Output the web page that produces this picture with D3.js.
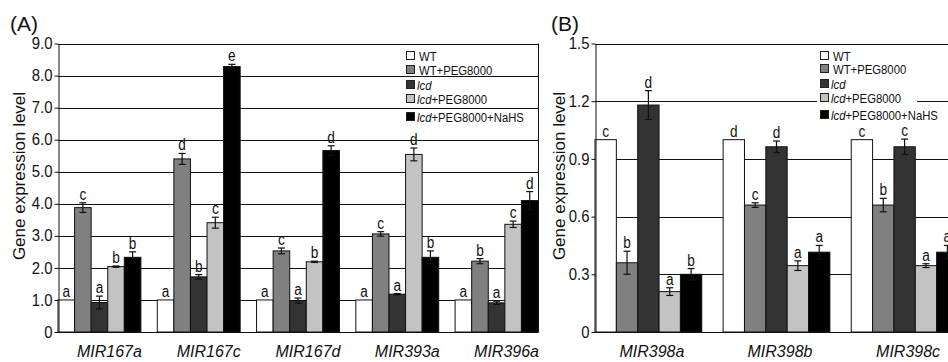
<!DOCTYPE html>
<html><head><meta charset="utf-8">
<script src="https://cdn.jsdelivr.net/npm/d3@7"></script>
<style>
html,body{margin:0;padding:0;background:#fff;}
svg{display:block;font-family:"Liberation Sans",Arial,sans-serif;}
</style></head>
<body>
<svg id="chart" width="948" height="362"></svg>
<script>
// ---------- data ----------
const seriesNames = ["WT", "WT+PEG8000", "lcd", "lcd+PEG8000", "lcd+PEG8000+NaHS"];
const seriesColors = ["#ffffff", "#808080", "#333333", "#c3c3c3", "#000000"];

// Panel A
const groupsA = ["MIR167a", "MIR167c", "MIR167d", "MIR393a", "MIR396a"];
const aWT      = [1.00, 1.00, 1.00, 1.00, 1.00];
const aWTPEG   = [3.88, 5.40, 2.53, 3.06, 2.21];
const aLcd     = [0.92, 1.72, 0.98, 1.18, 0.91];
const aLcdPEG  = [2.04, 3.41, 2.19, 5.54, 3.36];
const aNaHS    = [2.33, 8.28, 5.66, 2.33, 4.10];
const aWTErr     = [0, 0, 0, 0, 0];
const aWTPEGErr  = [0.15, 0.17, 0.09, 0.07, 0.08];
const aLcdErr    = [0.20, 0.07, 0.08, 0.02, 0.05];
const aLcdPEGErr = [0.02, 0.17, 0.02, 0.20, 0.10];
const aNaHSErr   = [0.17, 0.07, 0.15, 0.20, 0.28];
const aWTLet     = ["a", "a", "a", "a", "a"];
const aWTPEGLet  = ["c", "d", "c", "c", "b"];
const aLcdLet    = ["a", "b", "a", "a", "a"];
const aLcdPEGLet = ["b", "c", "b", "d", "c"];
const aNaHSLet   = ["b", "e", "d", "b", "d"];
const ticksA = [0, 1, 2, 3, 4, 5, 6, 7, 8, 9];
const tickLabelsA = ["0", "1.0", "2.0", "3.0", "4.0", "5.0", "6.0", "7.0", "8.0", "9.0"];

// Panel B
const groupsB = ["MIR398a", "MIR398b", "MIR398c"];
const bWT      = [1.00, 1.00, 1.00];
const bWTPEG   = [0.36, 0.66, 0.66];
const bLcd     = [1.18, 0.963, 0.963];
const bLcdPEG  = [0.21, 0.345, 0.345];
const bNaHS    = [0.30, 0.415, 0.415];
const bWTErr     = [0, 0, 0];
const bWTPEGErr  = [0.06, 0.012, 0.035];
const bLcdErr    = [0.075, 0.03, 0.04];
const bLcdPEGErr = [0.02, 0.025, 0.01];
const bNaHSErr   = [0.03, 0.035, 0.035];
const bWTLet     = ["c", "d", "c"];
const bWTPEGLet  = ["b", "c", "b"];
const bLcdLet    = ["d", "d", "c"];
const bLcdPEGLet = ["a", "a", "a"];
const bNaHSLet   = ["b", "a", "a"];
const ticksB = [0, 0.3, 0.6, 0.9, 1.2, 1.5];
const tickLabelsB = ["0", "0.3", "0.6", "0.9", "1.2", "1.5"];

// ---------- drawing ----------
const svg = d3.select("#chart");
svg.append("rect").attr("width", 948).attr("height", 362).attr("fill", "#fff");

function squeeze(sel, ratio) {
  sel.each(function () {
    const len = this.getComputedTextLength();
    if (len > 0) {
      d3.select(this).attr("textLength", len * ratio).attr("lengthAdjust", "spacingAndGlyphs");
    }
  });
}

function buildRows(groups, vals, errs, lets) {
  const rows = [];
  groups.forEach((g, gi) => {
    seriesNames.forEach((s, si) => {
      rows.push({ group: g, series: s, si: si, v: vals[si][gi], e: errs[si][gi], l: lets[si][gi] });
    });
  });
  return rows;
}

function drawPanel(cfg) {
  const g = svg.append("g");
  const y = d3.scaleLinear().domain(cfg.yDomain).range([cfg.bottom, cfg.top]);
  const x0 = d3.scaleBand().domain(cfg.groups).range([cfg.left, cfg.plotRight]).paddingInner(cfg.padInner).paddingOuter(0);
  const x1 = d3.scaleBand().domain(seriesNames).range([0, x0.bandwidth()]).padding(0);

  // gridlines
  g.append("g").selectAll("line").data(cfg.ticks.filter(t => t > 0)).join("line")
    .attr("x1", cfg.left).attr("x2", cfg.gridRight)
    .attr("y1", d => Math.round(y(d)) + 0.5).attr("y2", d => Math.round(y(d)) + 0.5)
    .attr("stroke", "#111").attr("stroke-width", 1);

  if (cfg.rightBorder) {
    g.append("line").attr("x1", cfg.gridRight + 0.5).attr("x2", cfg.gridRight + 0.5)
      .attr("y1", y(cfg.yDomain[1])).attr("y2", y(0)).attr("stroke", "#111");
  }

  const rows = buildRows(cfg.groups, cfg.vals, cfg.errs, cfg.lets);

  // bars
  g.append("g").selectAll("rect").data(rows).join("rect")
    .attr("x", d => x0(d.group) + x1(d.series))
    .attr("y", d => y(d.v))
    .attr("width", x1.bandwidth())
    .attr("height", d => y(0) - y(d.v))
    .attr("fill", d => seriesColors[d.si])
    .attr("stroke", "#111").attr("stroke-width", 1);

  // error bars
  const eg = g.append("g").selectAll("g").data(rows.filter(d => d.e > 0)).join("g")
    .attr("stroke", "#111").attr("stroke-width", 1.2);
  const cx = d => x0(d.group) + x1(d.series) + x1.bandwidth() / 2;
  eg.append("line").attr("x1", cx).attr("x2", cx)
    .attr("y1", d => y(d.v + d.e)).attr("y2", d => y(d.v - d.e));
  eg.append("line").attr("x1", d => cx(d) - 3.5).attr("x2", d => cx(d) + 3.5)
    .attr("y1", d => y(d.v + d.e)).attr("y2", d => y(d.v + d.e));
  eg.append("line").attr("x1", d => cx(d) - 3.5).attr("x2", d => cx(d) + 3.5)
    .attr("y1", d => y(d.v - d.e)).attr("y2", d => y(d.v - d.e));

  // letters
  const lt = g.append("g").selectAll("text").data(rows).join("text")
    .attr("x", cx)
    .attr("y", d => y(d.v + d.e) - 3)
    .attr("text-anchor", "middle")
    .attr("font-size", 16).attr("fill", "#111")
    .text(d => d.l);
  squeeze(lt, 0.85);

  // axes
  const yAxis = d3.axisLeft(y).tickValues(cfg.ticks).tickFormat((d, i) => cfg.tickLabels[i]).tickSize(4).tickSizeOuter(0);
  const ya = g.append("g").attr("transform", `translate(${cfg.left + 0.5},0)`).call(yAxis);
  ya.select(".domain").attr("stroke", "#111");
  ya.selectAll(".tick line").attr("stroke", "#111");
  ya.selectAll(".tick text").attr("font-size", 16).attr("fill", "#111").attr("x", -6)
    .attr("font-family", "Liberation Sans, Arial, sans-serif");
  squeeze(ya.selectAll(".tick text"), 0.93);

  g.append("line").attr("x1", cfg.left).attr("x2", cfg.gridRight + 0.5)
    .attr("y1", Math.round(y(0)) + 0.5).attr("y2", Math.round(y(0)) + 0.5).attr("stroke", "#111");

  // category labels
  g.append("g").selectAll("text").data(cfg.groups).join("text")
    .attr("x", d => x0(d) + x0.bandwidth() / 2 + cfg.labelShift)
    .attr("y", 357)
    .attr("text-anchor", "middle")
    .attr("font-size", 16).attr("font-style", "italic").attr("fill", "#111")
    .text(d => d);

  // y title
  g.append("text")
    .attr("transform", `translate(${cfg.yTitleX},176) rotate(-90)`)
    .attr("text-anchor", "middle").attr("font-size", 17).attr("fill", "#111")
    .text("Gene expression level");

  // panel tag
  g.append("text").attr("x", cfg.tagX).attr("y", 31).attr("font-size", 21).attr("fill", "#111").text(cfg.tag);

  // legend
  const lg = g.append("g");
  if (cfg.legendBg) {
    lg.append("rect").attr("x", cfg.legX - 3).attr("y", cfg.legRows[0] - 7).attr("width", 100)
      .attr("height", cfg.legRows[4] - cfg.legRows[0] + 14).attr("fill", "#fff");
  }
  seriesNames.forEach((s, i) => {
    const ry = cfg.legRows[i];
    lg.append("rect").attr("x", cfg.legX + 0.5).attr("y", ry - 4.5).attr("width", 8).attr("height", 8)
      .attr("fill", seriesColors[i]).attr("stroke", "#222").attr("stroke-width", 1);
    const t = lg.append("text").attr("x", cfg.legX + (i >= 2 ? 11 : 13)).attr("y", ry + 4.5)
      .attr("font-size", 13).attr("fill", "#111");
    if (s.startsWith("lcd")) {
      t.append("tspan").attr("font-style", "italic").text("lcd");
      t.append("tspan").text(s.slice(3));
    } else {
      t.text(s);
    }
    squeeze(t, 0.87);
  });
}

drawPanel({
  groups: groupsA,
  vals: [aWT, aWTPEG, aLcd, aLcdPEG, aNaHS],
  errs: [aWTErr, aWTPEGErr, aLcdErr, aLcdPEGErr, aNaHSErr],
  lets: [aWTLet, aWTPEGLet, aLcdLet, aLcdPEGLet, aNaHSLet],
  ticks: ticksA, tickLabels: tickLabelsA,
  yDomain: [0, 9], top: 43.5, bottom: 332,
  left: 58, plotRight: 538, gridRight: 538, padInner: 0.165, rightBorder: true,
  labelShift: 10, yTitleX: 25, tag: "(A)", tagX: 10,
  legX: 406, legRows: [56, 70, 85, 99, 117], legendBg: false
});

drawPanel({
  groups: groupsB,
  vals: [bWT, bWTPEG, bLcd, bLcdPEG, bNaHS],
  errs: [bWTErr, bWTPEGErr, bLcdErr, bLcdPEGErr, bNaHSErr],
  lets: [bWTLet, bWTPEGLet, bLcdLet, bLcdPEGLet, bNaHSLet],
  ticks: ticksB, tickLabels: tickLabelsB,
  yDomain: [0, 1.5], top: 43.5, bottom: 332,
  left: 595, plotRight: 958, gridRight: 985, padInner: 1 / 6, rightBorder: false,
  labelShift: 3.5, yTitleX: 565, tag: "(B)", tagX: 551,
  legX: 820, legRows: [56, 69, 84, 98, 115], legendBg: true
});
</script>
</body></html>
